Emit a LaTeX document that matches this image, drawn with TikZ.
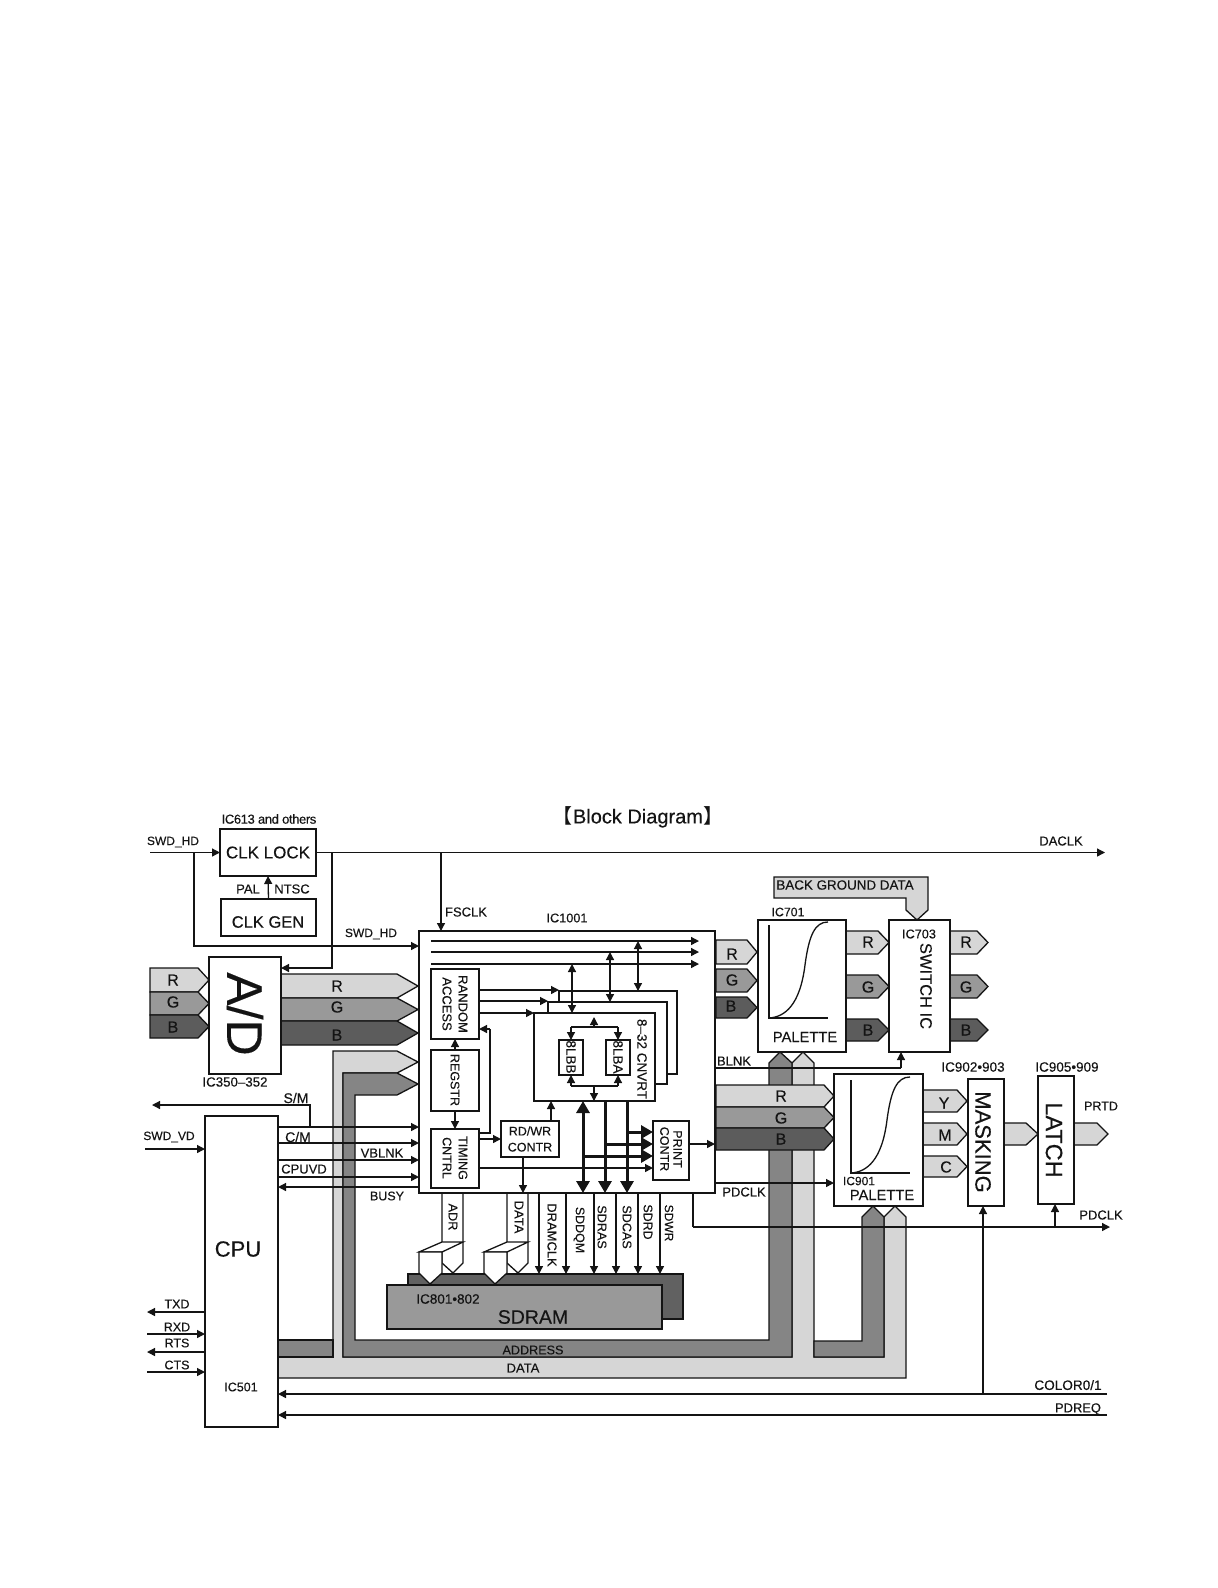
\documentclass[tikz,border=0pt]{standalone}
\usepackage{fontspec}
\setmainfont{Liberation Sans}[FakeBold=0.25]
\newfontfamily\cjkf{Noto Sans CJK SC}
\usetikzlibrary{arrows.meta,calc}
\definecolor{lightb}{gray}{0.84}
\definecolor{midb}{gray}{0.60}
\definecolor{darkb}{gray}{0.36}
\definecolor{addrb}{gray}{0.52}
\definecolor{ramfront}{gray}{0.60}
\definecolor{ramback}{gray}{0.38}
\definecolor{ink}{gray}{0.08}
\tikzset{
  every node/.style={text=ink},
  txt/.style={inner sep=0pt,outer sep=0pt,font=\fontsize{#1}{16}\selectfont,align=center},
  vtxt/.style={txt=#1,rotate=-90},
  boxn/.style={draw=ink,line width=1.5pt,fill=white,inner sep=0pt,outer sep=0pt},
  wire/.style={draw=ink,line width=1.3pt,-{Triangle[length=8pt,width=8pt]}},
  wireb/.style={draw=ink,line width=1.3pt,{Triangle[length=8pt,width=8pt]}-{Triangle[length=8pt,width=8pt]}},
  plain/.style={draw=ink,line width=1.3pt},
  thick1/.style={draw=ink,line width=3pt,-{Triangle[length=12pt,width=13pt]}},
  thick2/.style={draw=ink,line width=3pt,{Triangle[length=12pt,width=13pt]}-{Triangle[length=12pt,width=13pt]}},
  band/.style={draw=ink,line width=1.3pt,line join=miter}
}
% rectangle node from corners: name, x0, y0, x1, y1, extra options
\newcommand{\bx}[6]{\node[boxn,minimum width={(#4-#2)*1pt},minimum height={(#5-#3)*1pt},#6] (#1) at ({(#2+#4)/2},{(#3+#5)/2}) {};}
% pentagon arrow pointing right: x0, xs(shoulder), xt(tip), y0, y1, fill
\newcommand{\parrow}[6]{\draw[band,fill=#6] (#1,#4) -- (#2,#4) -- (#3,{(#4+#5)/2}) -- (#2,#5) -- (#1,#5) -- cycle;}
\begin{document}
\begin{tikzpicture}[x=1pt,y=-1pt]
\useasboundingbox (0,0) rectangle (1218,1588);
\fill[white] (0,0) rectangle (1218,1588);

% ---- buses behind everything
\draw[band,fill=lightb] (278,1357) -- (333,1357) -- (333,1051) -- (397,1051) -- (418,1062) -- (397,1073) -- (343,1073) -- (343,1357)
  -- (792,1357) -- (792,1063) -- (803,1052) -- (814,1063) -- (814,1357) -- (884,1357) -- (884,1217) -- (895,1206) -- (906,1217) -- (906,1378) -- (278,1378) -- cycle;
\draw[band,fill=addrb] (278,1340) -- (333,1340) -- (333,1357) -- (278,1357) -- cycle;
\draw[band,fill=addrb] (343,1357) -- (343,1073) -- (397,1073) -- (418,1084) -- (397,1095) -- (355,1095) -- (355,1340) -- (769,1340) -- (769,1063) -- (780,1052) -- (792,1063) -- (792,1357) -- cycle;
\draw[band,fill=addrb] (814,1357) -- (814,1341) -- (862,1341) -- (862,1217) -- (873,1206) -- (884,1217) -- (884,1357) -- cycle;

% ---- RGB bands
\parrow{150}{198}{209}{968}{992}{lightb}
\parrow{150}{198}{209}{992}{1015}{midb}
\parrow{150}{198}{209}{1015}{1038}{darkb}
\parrow{281}{397}{418}{974}{998}{lightb}
\parrow{281}{397}{418}{998}{1021}{midb}
\parrow{281}{397}{418}{1021}{1045}{darkb}
\parrow{716}{747}{757}{940}{964}{lightb}
\parrow{716}{747}{757}{969}{992}{midb}
\parrow{716}{747}{757}{997}{1018}{darkb}
\parrow{846}{878}{889}{931}{954}{lightb}
\parrow{846}{878}{889}{975}{998}{midb}
\parrow{846}{878}{889}{1019}{1041}{darkb}
\parrow{950}{977}{988}{931}{954}{lightb}
\parrow{950}{977}{988}{975}{998}{midb}
\parrow{950}{977}{988}{1019}{1041}{darkb}
\parrow{716}{824}{834}{1085}{1107}{lightb}
\parrow{716}{824}{834}{1107}{1128}{midb}
\parrow{716}{824}{834}{1128}{1150}{darkb}
\parrow{923}{957}{967}{1090}{1112}{lightb}
\parrow{923}{957}{967}{1123}{1145}{lightb}
\parrow{923}{957}{967}{1156}{1177}{lightb}
\parrow{1004}{1026}{1038}{1123}{1145}{lightb}
\parrow{1074}{1097}{1108}{1123}{1145}{lightb}
\draw[band,fill=lightb] (774,877) -- (928,877) -- (928,910) -- (917,920) -- (906,910) -- (906,898) -- (774,898) -- cycle;

% ---- SDRAM
\bx{ramback}{408}{1274}{683}{1319}{fill=ramback}
\bx{ramfront}{387}{1285}{662}{1329}{fill=ramfront}

% ---- ADR / DATA buses with cube ends
\foreach \dx in {0,65}{
  \draw[band,fill=white] (442+\dx,1193) -- (463+\dx,1193) -- (463+\dx,1263) -- (453+\dx,1273) -- (442+\dx,1263) -- cycle;
  \draw[band,fill=white] (419+\dx,1252) -- (442+\dx,1242) -- (463+\dx,1242) -- (442+\dx,1252) -- cycle;
  \draw[band,fill=white] (419+\dx,1252) -- (442+\dx,1252) -- (442+\dx,1273) -- (430+\dx,1284) -- (419+\dx,1273) -- cycle;
}

% ---- main boxes
\bx{clklock}{220}{829}{316}{876}{}
\bx{clkgen}{221}{899}{316}{936}{}
\bx{ad}{209}{957}{281}{1074}{}
\bx{ic1001}{419}{931}{715}{1193}{}
\bx{cpu}{205}{1116}{278}{1427}{}
\bx{ic701}{758}{920}{846}{1052}{}
\bx{ic703}{889}{920}{950}{1052}{}
\bx{ic901}{834}{1074}{923}{1206}{}
\bx{masking}{968}{1079}{1004}{1206}{}
\bx{latch}{1038}{1076}{1074}{1204}{}
\bx{conv3}{559}{991}{677}{1074}{}
\bx{conv2}{548}{1002}{667}{1084}{}
\bx{conv1}{534}{1013}{655}{1101}{}
\bx{random}{431}{969}{479}{1039}{}
\bx{regstr}{431}{1050}{479}{1111}{}
\bx{timing}{431}{1129}{479}{1188}{}
\bx{rdwr}{501}{1121}{559}{1157}{}
\bx{print}{653}{1121}{689}{1180}{}
\bx{lbb}{559}{1040}{583}{1075}{}
\bx{lba}{606}{1040}{630}{1075}{}

% ---- palette curves
\foreach \dx/\dy in {0/0,82/155}{
  \draw[plain] (769+\dx,925+\dy) -- (769+\dx,1018+\dy) -- (828+\dx,1018+\dy);
  \draw[plain] (769+\dx,1018+\dy) .. controls (785+\dx,1017+\dy) and (800+\dx,1005+\dy) .. (805+\dx,965+\dy) .. controls (809+\dx,935+\dy) and (815+\dx,922+\dy) .. (828+\dx,922+\dy);
}

% ---- free ends and junctions
\coordinate (swdin) at (150,852.5);
\coordinate (swdbr) at (194,852.5);
\coordinate (clkbr) at (332,852.5);
\coordinate (fsbr) at (441,852.5);
\coordinate (dacout) at (1105,852.5);
\coordinate (smout) at (152,1105);
\coordinate (vdin) at (145,1149);
\coordinate (txd) at (147,1312);
\coordinate (rxd) at (147,1334);
\coordinate (rts) at (147,1352);
\coordinate (cts) at (147,1372);
\coordinate (colorin) at (1107,1394);
\coordinate (pdreqin) at (1107,1415);
\coordinate (pdout) at (1110,1227);
\coordinate (pdbr) at (693,1227);
\coordinate (lar1) at (699,941);
\coordinate (lar2) at (699,952);
\coordinate (lar3) at (699,964);

% ---- wires outside
\draw[wire] (swdin) -- (clklock.west |- swdin);
\draw[wire] (clklock.east |- dacout) -- (dacout);
\draw[wire] (clkgen.north) -- (clklock.south);
\draw[wire] (swdbr) -- (194,946) -- (ic1001.west |- 0,946);
\draw[wire] (clkbr) -- (332,968) -- (ad.east |- 0,968);
\draw[wire] (fsbr) -- (ic1001.north -| fsbr);
\draw[wire] (310,1127) -- (310,1105) -- (smout);
\draw[wire] (vdin) -- (cpu.west |- vdin);
\draw[wire] (cpu.west |- txd) -- (txd);
\draw[wire] (rxd) -- (cpu.west |- rxd);
\draw[wire] (cpu.west |- rts) -- (rts);
\draw[wire] (cts) -- (cpu.west |- cts);
\foreach \y in {1127,1143,1160,1177}{\draw[wire] (cpu.east |- 0,\y) -- (ic1001.west |- 0,\y);}
\draw[wire] (ic1001.west |- 0,1187) -- (cpu.east |- 0,1187);
\draw[wire] (colorin) -- (cpu.east |- colorin);
\draw[wire] (pdreqin) -- (cpu.east |- pdreqin);
\draw[wire] (983,1394) -- (masking.south -| 983,0);
\draw[plain] (ic1001.south -| pdbr) -- (pdbr);
\draw[wire] (pdbr) -- (pdout);
\draw[wire] (1055,1227) -- (latch.south -| 1055,0);
\draw[wire] (ic1001.east |- 0,1183) -- (ic901.west |- 0,1183);
\draw[plain] (ic1001.east |- 0,1068) -- (901,1068);
\draw[wire] (901,1068) -- (ic703.south -| 901,0);

% ---- wires inside IC1001
\foreach \c in {lar1,lar2,lar3}{\draw[wire] (431,0 |- \c) -- (\c);}
\draw[wire] (random.east |- 0,990) -- (conv3.west |- 0,990);
\draw[wire] (random.east |- 0,1001) -- (conv2.west |- 0,1001);
\draw[wire] (random.east |- 0,1013) -- (conv1.west |- 0,1013);
\draw[wireb] (572,964) -- (572,1013);
\draw[wireb] (610,952) -- (610,1002);
\draw[wireb] (638,941) -- (638,991);
\draw[wire] (regstr.north) -- (random.south);
\draw[wire] (regstr.south) -- (timing.north);
\draw[plain] (timing.east |- 0,1133) -- (490,1133) -- (490,1029);
\draw[wire] (490,1029) -- (random.east |- 0,1029);
\draw[wire] (timing.east |- rdwr.west) -- (rdwr.west);
\draw[wire] (rdwr.north -| 551,0) -- (conv1.south -| 551,0);
\draw[wire] (rdwr.south -| 523,0) -- (ic1001.south -| 523,0);
\draw[wire] (timing.east |- 0,1168) -- (print.west |- 0,1168);
\draw[wire] (print.east |- 0,1144) -- (ic1001.east |- 0,1144);
% CNVRT internal buses
\draw[plain] (571,1027) -- (618,1027);
\draw[plain] (571,1086) -- (618,1086);
\draw[wire] (571,1027) -- (lbb.north);
\draw[wire] (618,1027) -- (lba.north);
\draw[wire] (571,1086) -- (lbb.south);
\draw[wire] (618,1086) -- (lba.south);
\draw[wire] (594,1027) -- (594,1017);
\draw[wire] (594,1086) -- (conv1.south -| 594,0);
% thick data lines
\draw[thick2] (583,1101) -- (583,1193);
\draw[thick1] (605,1101) -- (605,1193);
\draw[thick1] (627,1101) -- (627,1193);
\draw[thick1] (627,1132) -- (print.west |- 0,1132);
\draw[thick1] (605,1144) -- (print.west |- 0,1144);
\draw[thick1] (583,1156) -- (print.west |- 0,1156);

% ---- memory strobes
\foreach \x in {539,566,594,616,638,660}{\draw[wire] (ic1001.south -| \x,0) -- (ramback.north -| \x,0);}

% ---- labels
\node[txt=20] (title) at (638,817) {{\cjkf 【}Block Diagram{\cjkf 】}};
\node[txt=13] (ic613) at (269,819) {\addfontfeature{LetterSpace=-3}IC613 and others};
\node[txt=12] (lswd1) at (173,842) {SWD\_HD};
\node[txt=12] (lswd2) at (371,934) {SWD\_HD};
\node[txt=17] (lclklock) at (268,852.5) {CLK LOCK};
\node[txt=16.5] (lclkgen) at (268,922) {CLK GEN};
\node[txt=13] (lpal) at (248,889) {PAL};
\node[txt=13] (lntsc) at (292,889) {NTSC};
\node[txt=13] (lfsclk) at (466,912) {FSCLK};
\node[txt=12.7] (lic1001) at (567,918) {IC1001};
\node[txt=13] (ldaclk) at (1061,841) {DACLK};
\node[vtxt=50] (lad) at (245,1014) {A/D};
\node[txt=13.3] (lic350) at (235,1082) {IC350--352};
\node[txt=16] (lr1) at (173,980) {R};
\node[txt=16] (lg1) at (173,1002) {G};
\node[txt=16] (lb1) at (173,1027) {B};
\node[txt=16] (lr2) at (337,986) {R};
\node[txt=16] (lg2) at (337,1007) {G};
\node[txt=16] (lb2) at (337,1035) {B};
\node[txt=16] (lr3) at (732,954) {R};
\node[txt=16] (lg3) at (732,980) {G};
\node[txt=16] (lb3) at (731,1006) {B};
\node[txt=16] (lr4) at (868,942) {R};
\node[txt=16] (lg4) at (868,987) {G};
\node[txt=16] (lb4) at (868,1030) {B};
\node[txt=16] (lr5) at (966,942) {R};
\node[txt=16] (lg5) at (966,987) {G};
\node[txt=16] (lb5) at (966,1030) {B};
\node[txt=16] (lr6) at (781,1096) {R};
\node[txt=16] (lg6) at (781,1118) {G};
\node[txt=16] (lb6) at (781,1139) {B};
\node[txt=16] (ly) at (944,1103) {Y};
\node[txt=16] (lm) at (945,1135) {M};
\node[txt=16] (lc) at (946,1167) {C};
\node[txt=14] (lsm) at (296,1098) {S/M};
\node[txt=12] (lvd) at (169,1137) {SWD\_VD};
\node[txt=14] (lcm) at (298,1137) {C/M};
\node[txt=13] (lvblnk) at (382,1153) {VBLNK};
\node[txt=13] (lcpuvd) at (304,1169) {CPUVD};
\node[txt=12.5] (lbusy) at (387,1196) {BUSY};
\node[txt=22] (lcpu) at (238,1249) {CPU};
\node[txt=12.5] (lic501) at (241,1387) {IC501};
\node[txt=12.5] (ltxd) at (177,1304) {TXD};
\node[txt=12.5] (lrxd) at (177,1327) {RXD};
\node[txt=12.5] (lrts) at (177,1343) {RTS};
\node[txt=12.5] (lcts) at (177,1365) {CTS};
\node[vtxt=13] (lrandom) at (455,1004) {RANDOM\\ACCESS};
\node[vtxt=12.5] (lregstr) at (455,1080) {REGSTR};
\node[vtxt=12.5] (ltiming) at (455,1158) {TIMING\\CNTRL};
\node[txt=12.5] (lrdwr) at (530,1139) {RD/WR\\CONTR};
\node[vtxt=12.5] (lprint) at (671,1149) {PRINT\\[-3pt]CONTR};
\node[vtxt=13.5] (llbb) at (571,1057) {8LBB};
\node[vtxt=13.5] (llba) at (618,1057) {8LBA};
\node[vtxt=13.5] (lcnvrt) at (642,1059) {8--32 CNVRT};
\node[vtxt=12.7] (ladr) at (453,1217) {ADR};
\node[vtxt=13] (ldata) at (519,1217) {DATA};
\node[vtxt=13] (ldram) at (552,1235) {DRAMCLK};
\node[vtxt=12.4] (lsddqm) at (579,1230) {SDDQM};
\node[vtxt=12.6] (lsdras) at (602,1227) {SDRAS};
\node[vtxt=12.6] (lsdcas) at (627,1227) {SDCAS};
\node[vtxt=12.4] (lsdrd) at (648,1222) {SDRD};
\node[vtxt=12] (lsdwr) at (669,1223) {SDWR};
\node[txt=13.5] (lic801) at (448,1299) {IC801•802};
\node[txt=19.5] (lsdram) at (533,1317) {SDRAM};
\node[txt=12.6] (laddress) at (533,1350) {ADDRESS};
\node[txt=13] (ldatab) at (523,1368) {DATA};
\node[txt=13.4] (lback) at (845,885) {BACK GROUND DATA};
\node[txt=12.3] (lic701) at (788,912) {IC701};
\node[txt=12.7] (lic703) at (919,934) {IC703};
\node[vtxt=16.5] (lswitch) at (926,986) {SWITCH IC};
\node[txt=14.7] (lpal1) at (805,1037) {PALETTE};
\node[txt=13] (lblnk) at (734,1061) {BLNK};
\node[txt=13.5] (lic902) at (973,1067) {IC902•903};
\node[txt=13.5] (lic905) at (1067,1067) {IC905•909};
\node[txt=12.5] (lprtd) at (1101,1106) {PRTD};
\node[txt=13] (lpdclk1) at (744,1192) {PDCLK};
\node[txt=12] (lic901) at (859,1181) {IC901};
\node[txt=14.7] (lpal2) at (882,1195) {PALETTE};
\node[vtxt=22] (lmask) at (983,1142) {MASKING};
\node[vtxt=23.5] (llatch) at (1054,1140) {LATCH};
\node[txt=13] (lpdclk2) at (1101,1215) {PDCLK};
\node[txt=13.6] (lcolor) at (1068,1385) {COLOR0/1};
\node[txt=12.9] (lpdreq) at (1078,1409) {PDREQ};
\end{tikzpicture}
\end{document}
